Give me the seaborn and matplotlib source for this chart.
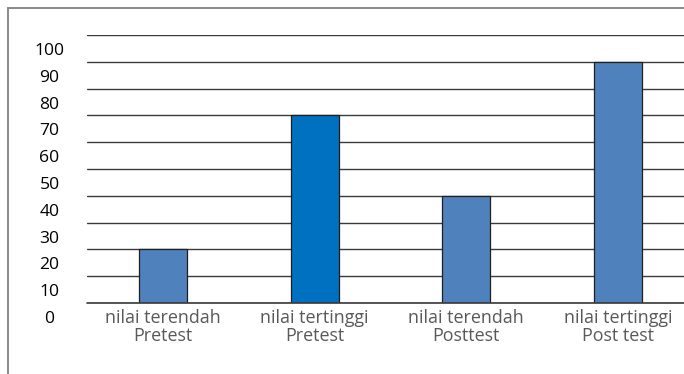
import matplotlib
matplotlib.use("Agg")
import matplotlib.pyplot as plt
import matplotlib.transforms as mtrans
from matplotlib.lines import Line2D
import seaborn as sns
import pandas as pd

categories = ["nilai terendah\nPretest", "nilai tertinggi\nPretest",
              "nilai terendah\nPosttest", "nilai tertinggi\nPost test"]
values = [20, 70, 40, 90]
bar_colors = ["#4F81BD", "#0070C0", "#4F81BD", "#4F81BD"]
y_ticks = list(range(0, 101, 10))

sns.set_theme(style="white")
plt.rcParams['font.family'] = ['Open Sans', 'DejaVu Sans']

W, H = 684, 374
fig = plt.figure(figsize=(W / 100, H / 100), dpi=100)
ax = fig.add_axes([87 / W, (H - 303) / H, 607 / W, 268 / H])

df = pd.DataFrame({"cat": categories, "val": values})
sns.barplot(data=df, x="cat", y="val", hue="cat", palette=bar_colors,
            legend=False, width=0.316, edgecolor="#1f1f1f", linewidth=0.9,
            saturation=1, ax=ax, zorder=3)

ax.set_ylim(0, 100)
ax.set_xlim(-0.5, 3.5)
ax.set_yticks(y_ticks)
ax.set_yticklabels([str(t) for t in y_ticks])
ax.set_xlabel("")
ax.set_ylabel("")
for s in ax.spines.values():
    s.set_visible(False)
ax.yaxis.grid(True, color="#3a3a3a", linewidth=1.0, zorder=0)
ax.set_axisbelow(True)
ax.axhline(0, color="#3a3a3a", linewidth=1.2, zorder=4, clip_on=False)
ax.tick_params(axis="y", length=0, pad=27, labelsize=12.6, labelcolor="black")
ax.tick_params(axis="x", length=0, pad=4, labelsize=12.9, labelcolor="#595959")
for lab in ax.get_yticklabels():
    lab.set_horizontalalignment("center")
    lab.set_transform(lab.get_transform() +
                      mtrans.ScaledTranslation(0, -14 / 100, fig.dpi_scale_trans))
for lab in ax.get_xticklabels():
    lab.set_linespacing(1.05)

# outer frame (partially visible)
fig.add_artist(Line2D([8 / W, 8 / W], [0, 1 - 8 / H], transform=fig.transFigure,
                      color="#808080", linewidth=1.3))
fig.add_artist(Line2D([8 / W, 1], [1 - 8 / H, 1 - 8 / H], transform=fig.transFigure,
                      color="#808080", linewidth=1.3))

fig.savefig("out.png", dpi=100)
